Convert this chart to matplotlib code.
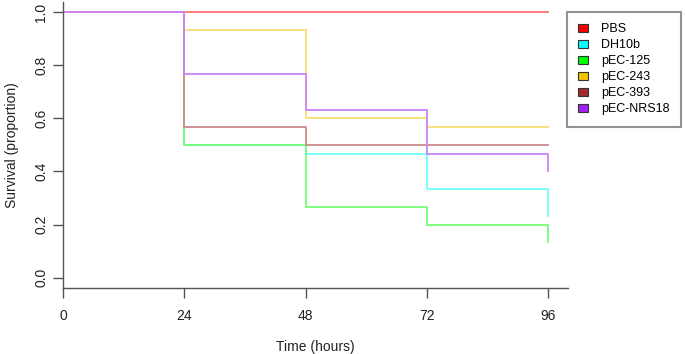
import matplotlib
matplotlib.use("Agg")
import matplotlib.pyplot as plt
from matplotlib.colors import to_rgb
from matplotlib.patches import Patch

plt.rcParams['font.family'] = ['Liberation Sans', 'DejaVu Sans']

# time points (hours) and survival proportions
hours = [0, 24, 48, 72, 96]
groups = ["PBS", "DH10b", "pEC-125", "pEC-243", "pEC-393", "pEC-NRS18"]
pbs = [1.0, 1.0, 1.0, 1.0, 1.0]
dh10b = [1.0, 0.5, 0.467, 0.333, 0.233]
pec125 = [1.0, 0.5, 0.267, 0.2, 0.133]
pec243 = [1.0, 0.933, 0.6, 0.567, 0.567]
pec393 = [1.0, 0.567, 0.5, 0.5, 0.5]
pecnrs18 = [1.0, 0.767, 0.633, 0.467, 0.4]
colors = ["#FF0000", "#00FFFF", "#00FF00", "#F2C500", "#A52A2A", "#A020F0"]

series = [pbs, dh10b, pec125, pec243, pec393, pecnrs18]


def lighten(c, f=0.55):
    r, g, b = to_rgb(c)
    return (1 - f * (1 - r), 1 - f * (1 - g), 1 - f * (1 - b))


W, H = 685, 354
fig = plt.figure(figsize=(W / 100, H / 100), dpi=100)
ax = fig.add_axes([63.3 / W, 1 - 288.3 / H, (568 - 63.3) / W, (288.3 - 1.6) / H])

for vals, c in zip(series, colors):
    ax.step(hours, vals, where='post', color=lighten(c), lw=1.3)

ax.set_xlim(0, 100)
ax.set_ylim(-0.04, 1.04)
ax.set_xticks(hours)
ax.set_yticks([0, 0.2, 0.4, 0.6, 0.8, 1.0])
ax.set_yticklabels(["0.0", "0.2", "0.4", "0.6", "0.8", "1.0"], rotation=90, va='center')
ax.spines['top'].set_visible(False)
ax.spines['right'].set_visible(False)
for s in ['left', 'bottom']:
    ax.spines[s].set_color('#555555')
    ax.spines[s].set_linewidth(1.0)
ax.tick_params(direction='out', length=7, width=1.0, color='#555555',
               labelsize=10, labelcolor='#222222')
ax.tick_params(axis='x', pad=8)
ax.tick_params(axis='y', pad=4)
ax.set_xlabel("Time (hours)", fontsize=10, color='#222222', labelpad=12)
ax.set_ylabel("Survival (proportion)", fontsize=10, color='#222222', labelpad=11)

handles = [Patch(facecolor=c, edgecolor='#333333', lw=0.8) for c in colors]
leg = fig.legend(handles, groups, loc='upper left',
                 bbox_to_anchor=(567 / W, 1 - 12 / H), borderaxespad=0,
                 fontsize=9, frameon=True, fancybox=False,
                 handlelength=0.8, handleheight=0.7, handletextpad=1.0,
                 labelspacing=0.32, borderpad=0.9)
leg.get_frame().set_edgecolor('#777777')
leg.get_frame().set_linewidth(1.5)

fig.savefig("out.png", dpi=100)
